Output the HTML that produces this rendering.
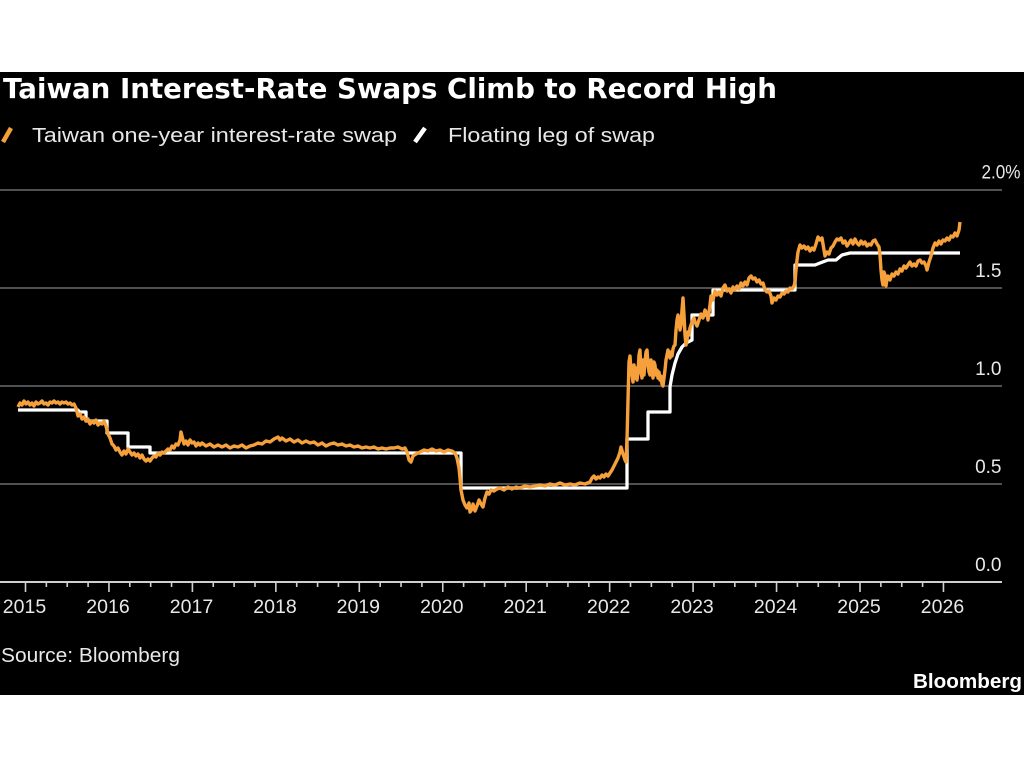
<!DOCTYPE html>
<html><head><meta charset="utf-8"><style>
html,body{margin:0;padding:0;background:#fff;width:1024px;height:768px;overflow:hidden}
svg{display:block}
</style></head><body>
<svg width="1024" height="768" viewBox="0 0 1024 768" xmlns="http://www.w3.org/2000/svg">
<rect x="0" y="0" width="1024" height="768" fill="#fff"/>
<rect x="0" y="72" width="1024" height="623" fill="#000"/>
<text x="3" y="98" font-family="DejaVu Sans, sans-serif" font-weight="bold" font-size="27.5" fill="#fff" textLength="774" lengthAdjust="spacingAndGlyphs">Taiwan Interest-Rate Swaps Climb to Record High</text>
<line x1="3" y1="142" x2="11" y2="128" stroke="#f5a03a" stroke-width="4.5"/>
<text x="32" y="142" font-family="Liberation Sans, sans-serif" font-size="20" fill="#e8e8e8" textLength="365" lengthAdjust="spacingAndGlyphs">Taiwan one-year interest-rate swap</text>
<line x1="415" y1="142" x2="425" y2="128" stroke="#fff" stroke-width="4.5"/>
<text x="448" y="142" font-family="Liberation Sans, sans-serif" font-size="20" fill="#e8e8e8" textLength="207" lengthAdjust="spacingAndGlyphs">Floating leg of swap</text>
<g stroke="#6a6a6a" stroke-width="1.5">
<line x1="0" y1="190" x2="1002" y2="190"/>
<line x1="0" y1="288" x2="1002" y2="288"/>
<line x1="0" y1="386" x2="1002" y2="386"/>
<line x1="0" y1="484" x2="1002" y2="484"/>
</g>
<g font-family="Liberation Sans, sans-serif" font-size="19" fill="#e8e8e8">
<text x="981.5" y="178.5" textLength="39" lengthAdjust="spacingAndGlyphs">2.0%</text>
<text x="1001.5" y="277" text-anchor="end">1.5</text>
<text x="1001.5" y="375" text-anchor="end">1.0</text>
<text x="1001.5" y="473" text-anchor="end">0.5</text>
<text x="1001.5" y="571" text-anchor="end">0.0</text>
</g>
<line x1="0" y1="582" x2="1002" y2="582" stroke="#cfcfcf" stroke-width="2"/>
<path stroke="#cfcfcf" stroke-width="1.6" fill="none" d="M25.5,582V592M108.95,582V592M192.4,582V592M275.85,582V592M359.3,582V592M442.75,582V592M526.2,582V592M609.65,582V592M693.1,582V592M776.55,582V592M860,582V592M943.45,582V592
M46.36,582V587M67.23,582V587M88.09,582V587M129.81,582V587M150.68,582V587M171.54,582V587M213.26,582V587M234.13,582V587M254.99,582V587M296.71,582V587M317.58,582V587M338.44,582V587M380.16,582V587M401.03,582V587M421.89,582V587M463.61,582V587M484.48,582V587M505.34,582V587M547.06,582V587M567.93,582V587M588.79,582V587M630.51,582V587M651.38,582V587M672.24,582V587M713.96,582V587M734.83,582V587M755.69,582V587M797.41,582V587M818.28,582V587M839.14,582V587M880.86,582V587M901.73,582V587M922.59,582V587"/>
<g font-family="Liberation Sans, sans-serif" font-size="19.5" fill="#e8e8e8" text-anchor="middle">
<text x="24.5" y="613">2015</text>
<text x="108" y="613">2016</text>
<text x="191.5" y="613">2017</text>
<text x="275" y="613">2018</text>
<text x="358.3" y="613">2019</text>
<text x="441.8" y="613">2020</text>
<text x="525.2" y="613">2021</text>
<text x="608.7" y="613">2022</text>
<text x="692.1" y="613">2023</text>
<text x="775.6" y="613">2024</text>
<text x="859" y="613">2025</text>
<text x="942.5" y="613">2026</text>
</g>
<text x="1" y="662" font-family="Liberation Sans, sans-serif" font-size="20" fill="#e8e8e8" textLength="179" lengthAdjust="spacingAndGlyphs">Source: Bloomberg</text>
<text x="913" y="688" font-family="Liberation Sans, sans-serif" font-weight="bold" font-size="20" fill="#fff" textLength="109" lengthAdjust="spacingAndGlyphs">Bloomberg</text>
<path fill="none" stroke="#fff" stroke-width="3.3" stroke-linejoin="round" d="M18,410 H78 L79,412 H86 V421 H107 V433 H128 V447 H150 V453 H461 V488 H627 V439 H648 V412 H670 V387 L672,375 L675,363 L678,354 L682,347 L686,343 L692,340 V315 H713 V290 H795 V265 H815 L820,263 L828,260 H836 L842,255 L850,253 H960"/>
<polyline fill="none" stroke="#f5a03a" stroke-width="3.4" stroke-linejoin="round" points="18,407 20,403 22,405 24,401 26,404 28,402 30,405 32,403 34,406 36,402 38,404 40,403 42,401 44,404 46,403 48,405 50,402 52,403 54,401 56,403 58,402 60,404 62,402 64,403 66,402 68,404 70,403 72,405 74,404 76,408 78,416 80,414 82,419 84,417 86,421 88,419 90,424 92,421 94,423 96,420 98,425 100,423 102,424 104,421 106,426 108,434 110,438 112,444 114,446 116,450 118,448 120,452 122,455 124,451 126,454 128,449 130,452 132,455 134,453 136,456 138,454 140,458 142,455 144,459 146,461 148,459 150,461 152,458 154,456 156,457 158,453 160,455 162,452 164,453 166,451 168,449 170,450 172,446 174,448 176,444 178,445 180,440 181,432 182,436 184,444 186,441 188,445 190,440 192,443 194,442 196,446 198,443 200,445 202,443 206,446 210,444 214,447 218,445 222,447 226,445 230,448 234,446 238,447 242,445 246,448 250,446 254,445 258,443 262,444 266,441 270,442 274,439 278,437 280,440 282,438 286,441 290,439 294,442 298,440 302,443 306,441 310,443 314,442 318,445 322,443 326,446 330,444 334,443 338,445 342,444 346,446 350,445 354,447 358,446 362,448 366,447 370,448 374,447 378,449 382,448 386,449 390,448 394,448 398,447 402,449 405,448 407,452 409,460 411,462 413,456 416,454 420,452 424,450 428,451 432,449 436,451 440,450 444,452 448,450 452,451 455,453 457,458 459,468 460,478 461,490 463,500 465,505 467,508 469,503 470,512 472,509 473,504 475,511 477,506 479,500 481,504 483,507 485,498 487,492 489,494 491,490 494,491 497,489 500,488 504,490 508,487 512,489 516,487 520,488 525,486 530,487 535,486 540,485 545,486 550,484 555,485 560,483 565,485 570,484 575,485 580,483 585,484 590,482 592,478 594,476 596,479 598,477 600,478 602,475 604,477 606,474 608,476 610,473 612,470 614,466 616,462 618,458 620,452 621,447 623,454 625,460 626,462 627,440 628,400 629,362 630,356 631,370 632,375 633,382 634,365 635,378 636,368 637,380 638,372 639,355 640,350 641,372 642,378 643,360 644,375 645,362 646,352 647,350 648,365 649,372 650,375 651,360 652,370 653,378 654,362 655,365 656,375 657,370 658,378 659,372 660,380 661,376 662,384 663,386 664,378 665,370 666,360 667,355 668,350 669,354 670,358 671,352 672,356 673,349 674,346 675,345 676,330 677,320 678,315 679,322 680,330 681,325 682,310 683,298 684,315 685,335 686,345 687,340 688,332 689,335 690,328 691,325 692,322 694,318 695,322 697,326 699,320 701,314 703,318 705,310 707,314 708,320 710,305 711,296 713,300 715,291 717,295 719,292 721,296 723,288 725,285 727,291 729,289 731,293 733,287 735,290 737,286 739,289 741,283 743,286 745,282 747,285 749,278 751,276 753,279 755,278 757,282 759,280 761,284 763,283 765,290 767,292 769,291 771,296 772,303 774,298 776,300 778,296 780,297 782,293 784,294 786,291 788,292 790,288 792,289 794,286 795,282 796,270 797,260 798,252 800,245 802,248 804,246 806,249 808,247 810,251 812,248 814,250 816,244 818,237 820,240 822,238 824,250 825,256 827,252 829,254 831,248 833,246 835,242 837,239 839,240 841,238 843,243 845,241 847,246 849,243 851,240 853,244 855,239 857,243 859,245 861,241 863,244 865,242 867,246 869,244 871,245 873,241 875,240 877,244 879,247 880,255 881,270 882,280 883,285 884,272 885,275 886,286 887,279 888,276 890,280 892,274 894,276 896,272 898,274 900,269 902,271 904,266 906,268 908,265 910,262 912,266 914,264 916,266 918,261 920,260 922,263 924,262 926,266 927,270 929,262 931,256 933,248 935,243 937,245 939,241 941,244 943,240 945,241 947,238 949,240 951,236 953,237 955,233 957,236 959,230 960,222"/>
</svg>
</body></html>
